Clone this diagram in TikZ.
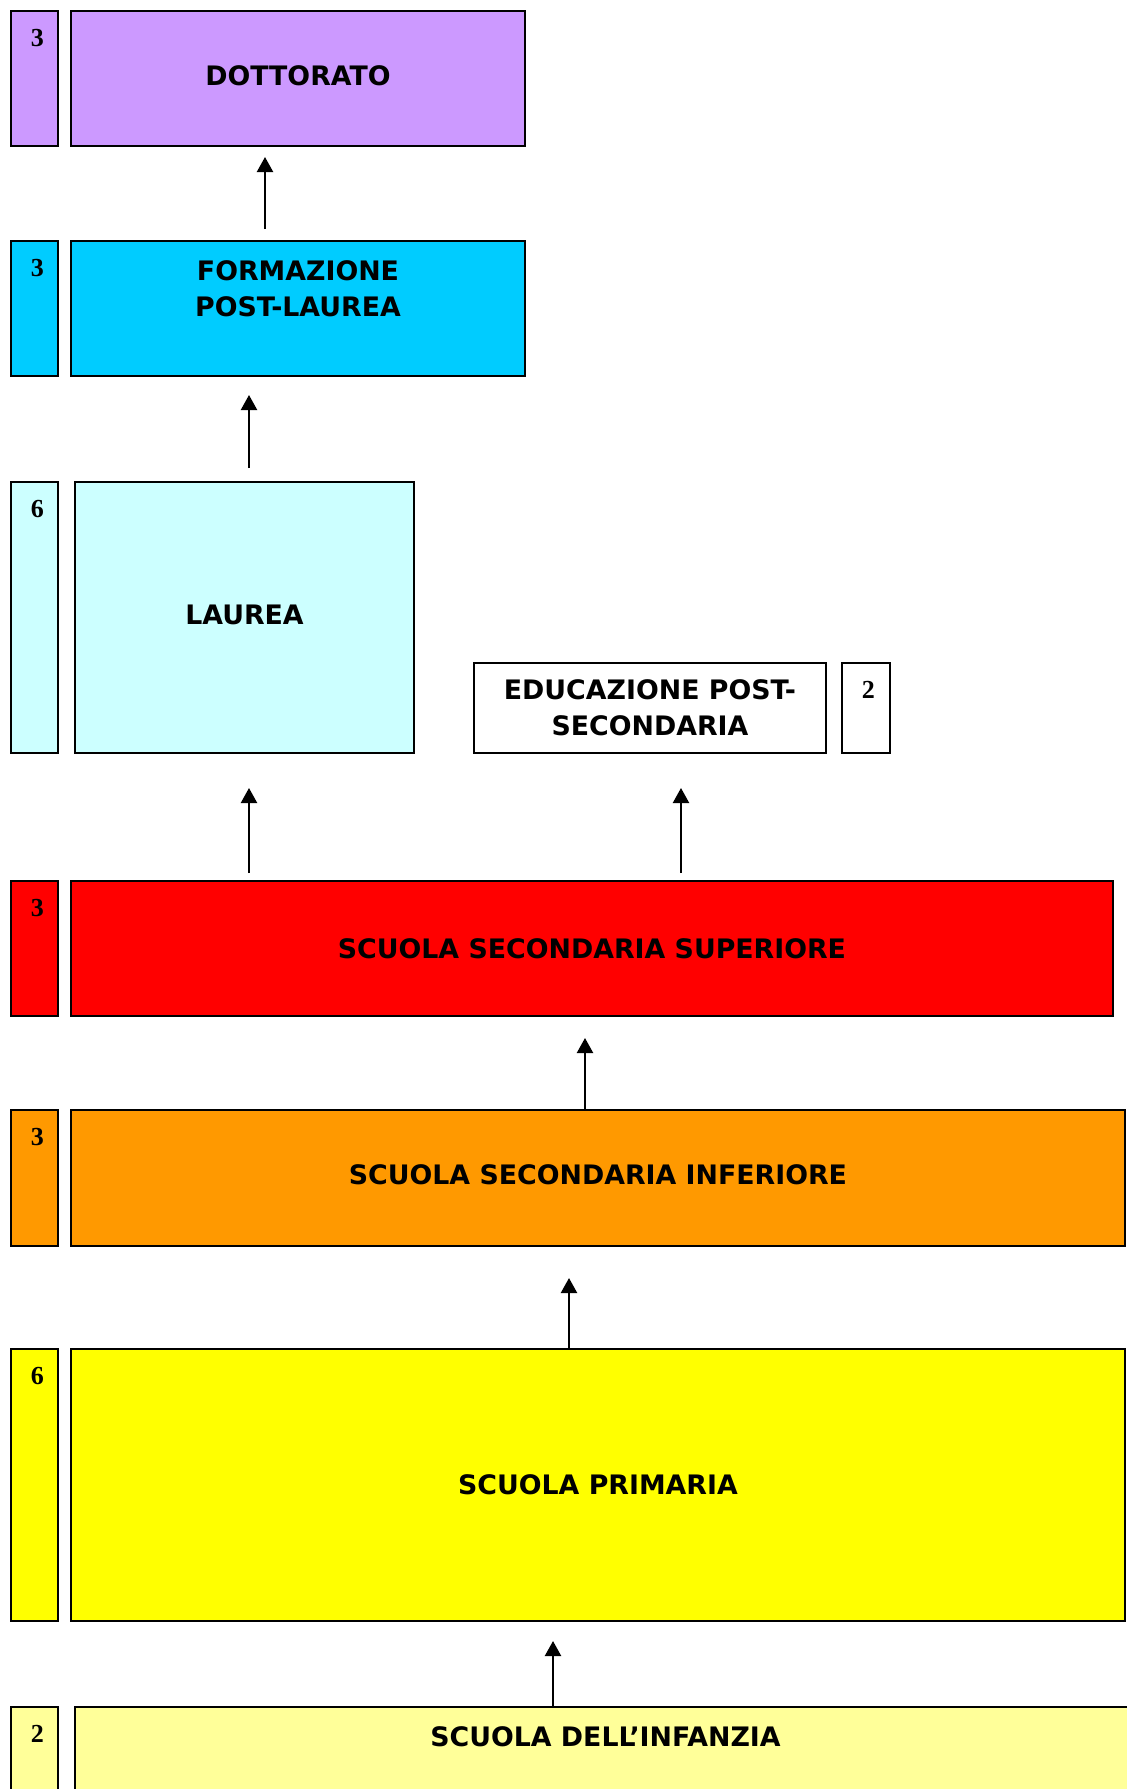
\documentclass[tikz,border=0pt]{standalone}
\usepackage{fontspec}
\usetikzlibrary{arrows.meta}
\newfontfamily\boxfont{DejaVu Sans}
\newfontfamily\numfont{Liberation Serif}

\definecolor{dottcol}{HTML}{CC99FF}
\definecolor{formcol}{HTML}{00CCFF}
\definecolor{laucol}{HTML}{CCFFFF}
\definecolor{supcol}{HTML}{FF0000}
\definecolor{infcol}{HTML}{FF9900}
\definecolor{primcol}{HTML}{FFFF00}
\definecolor{infzcol}{HTML}{FFFF99}

\begin{document}
\begin{tikzpicture}[x=0.5pt,y=-0.5pt,
  lbl/.style={inner sep=0pt, align=center,
    font=\boxfont\bfseries\fontsize{13.4}{18}\selectfont},
  box/.style={lbl, draw, line width=1pt, anchor=north west},
  yrs/.style={draw, line width=1pt, inner sep=0pt, anchor=north west},
  num/.style={inner sep=0pt, anchor=north,
    font=\numfont\bfseries\fontsize{13}{15}\selectfont},
  arr/.style={-{Triangle[width=8pt,length=7.5pt]}, line width=1.1pt}]
\useasboundingbox (0,0) rectangle (1127,1789);
\clip (0,0) rectangle (1127,1789);

% Years column
\foreach \nm/\y/\h/\col/\yr in {dott/10/135/dottcol/3, form/240/135/formcol/3,
    laurea/481/271/laucol/6, sup/880/135/supcol/3, inf/1109/136/infcol/3,
    prim/1348/272/primcol/6, infz/1706/140/infzcol/2} {
    \node[yrs, fill=\col, minimum width=23.5pt, minimum height=\h*0.5pt] (\nm-y) at (10,\y) {};
    \node[num] (\nm-n) at ([xshift=1.5pt,yshift=-9.5pt]\nm-y.north) {\yr};
}

% School levels
\node[box, fill=dottcol, minimum width=227pt, minimum height=67.5pt] (dott) at (70,10) {};
\node[lbl] (dott-t) at ([yshift=1.5pt]dott.center) {DOTTORATO};
\node[box, fill=formcol, minimum width=227pt, minimum height=67.5pt] (form) at (70,240) {};
\node[lbl, anchor=north] (form-t) at ([yshift=-10pt]form.north) {FORMAZIONE\\POST-LAUREA};
\node[box, fill=laucol, minimum width=169.5pt, minimum height=135.5pt] (laurea) at (74,481) {};
\node[lbl] (laurea-t) at ([yshift=1.5pt]laurea.center) {LAUREA};
\node[box, fill=white, minimum width=176pt, minimum height=45pt] (edu) at (473,662) {EDUCAZIONE POST-\\SECONDARIA};
\node[yrs, fill=white, minimum width=24pt, minimum height=45pt] (edu-y) at (841,662) {};
\node[num] (edu-n) at ([xshift=1.2pt,yshift=-9.5pt]edu-y.north) {2};
\node[box, fill=supcol, minimum width=521pt, minimum height=67.5pt] (sup) at (70,880) {SCUOLA SECONDARIA SUPERIORE};
\node[box, fill=infcol, minimum width=527pt, minimum height=68pt] (inf) at (70,1109) {};
\node[lbl] (inf-t) at ([yshift=1.5pt]inf.center) {SCUOLA SECONDARIA INFERIORE};
\node[box, fill=primcol, minimum width=527pt, minimum height=136pt] (prim) at (70,1348) {SCUOLA PRIMARIA};
\node[box, fill=infzcol, minimum width=530.5pt, minimum height=70pt] (infz) at (74,1706) {};
\node[lbl, anchor=north] (infz-t) at ([yshift=-10pt]infz.north) {SCUOLA DELL’INFANZIA};

% Arrows
\foreach \a/\b/\x/\s/\e in {form/dott/265/5.5pt/5pt, laurea/form/249/6.5pt/9pt,
    sup/laurea/249/3.5pt/17pt, sup/edu/681/3.5pt/17pt, inf/sup/585/0pt/10.5pt,
    prim/inf/569/0pt/15.5pt, infz/prim/553/0pt/9.5pt} {
    \draw[arr, shorten <=\s, shorten >=\e] (\a.north -| \x,0) -- (\b.south -| \x,0);
}
\end{tikzpicture}
\end{document}
